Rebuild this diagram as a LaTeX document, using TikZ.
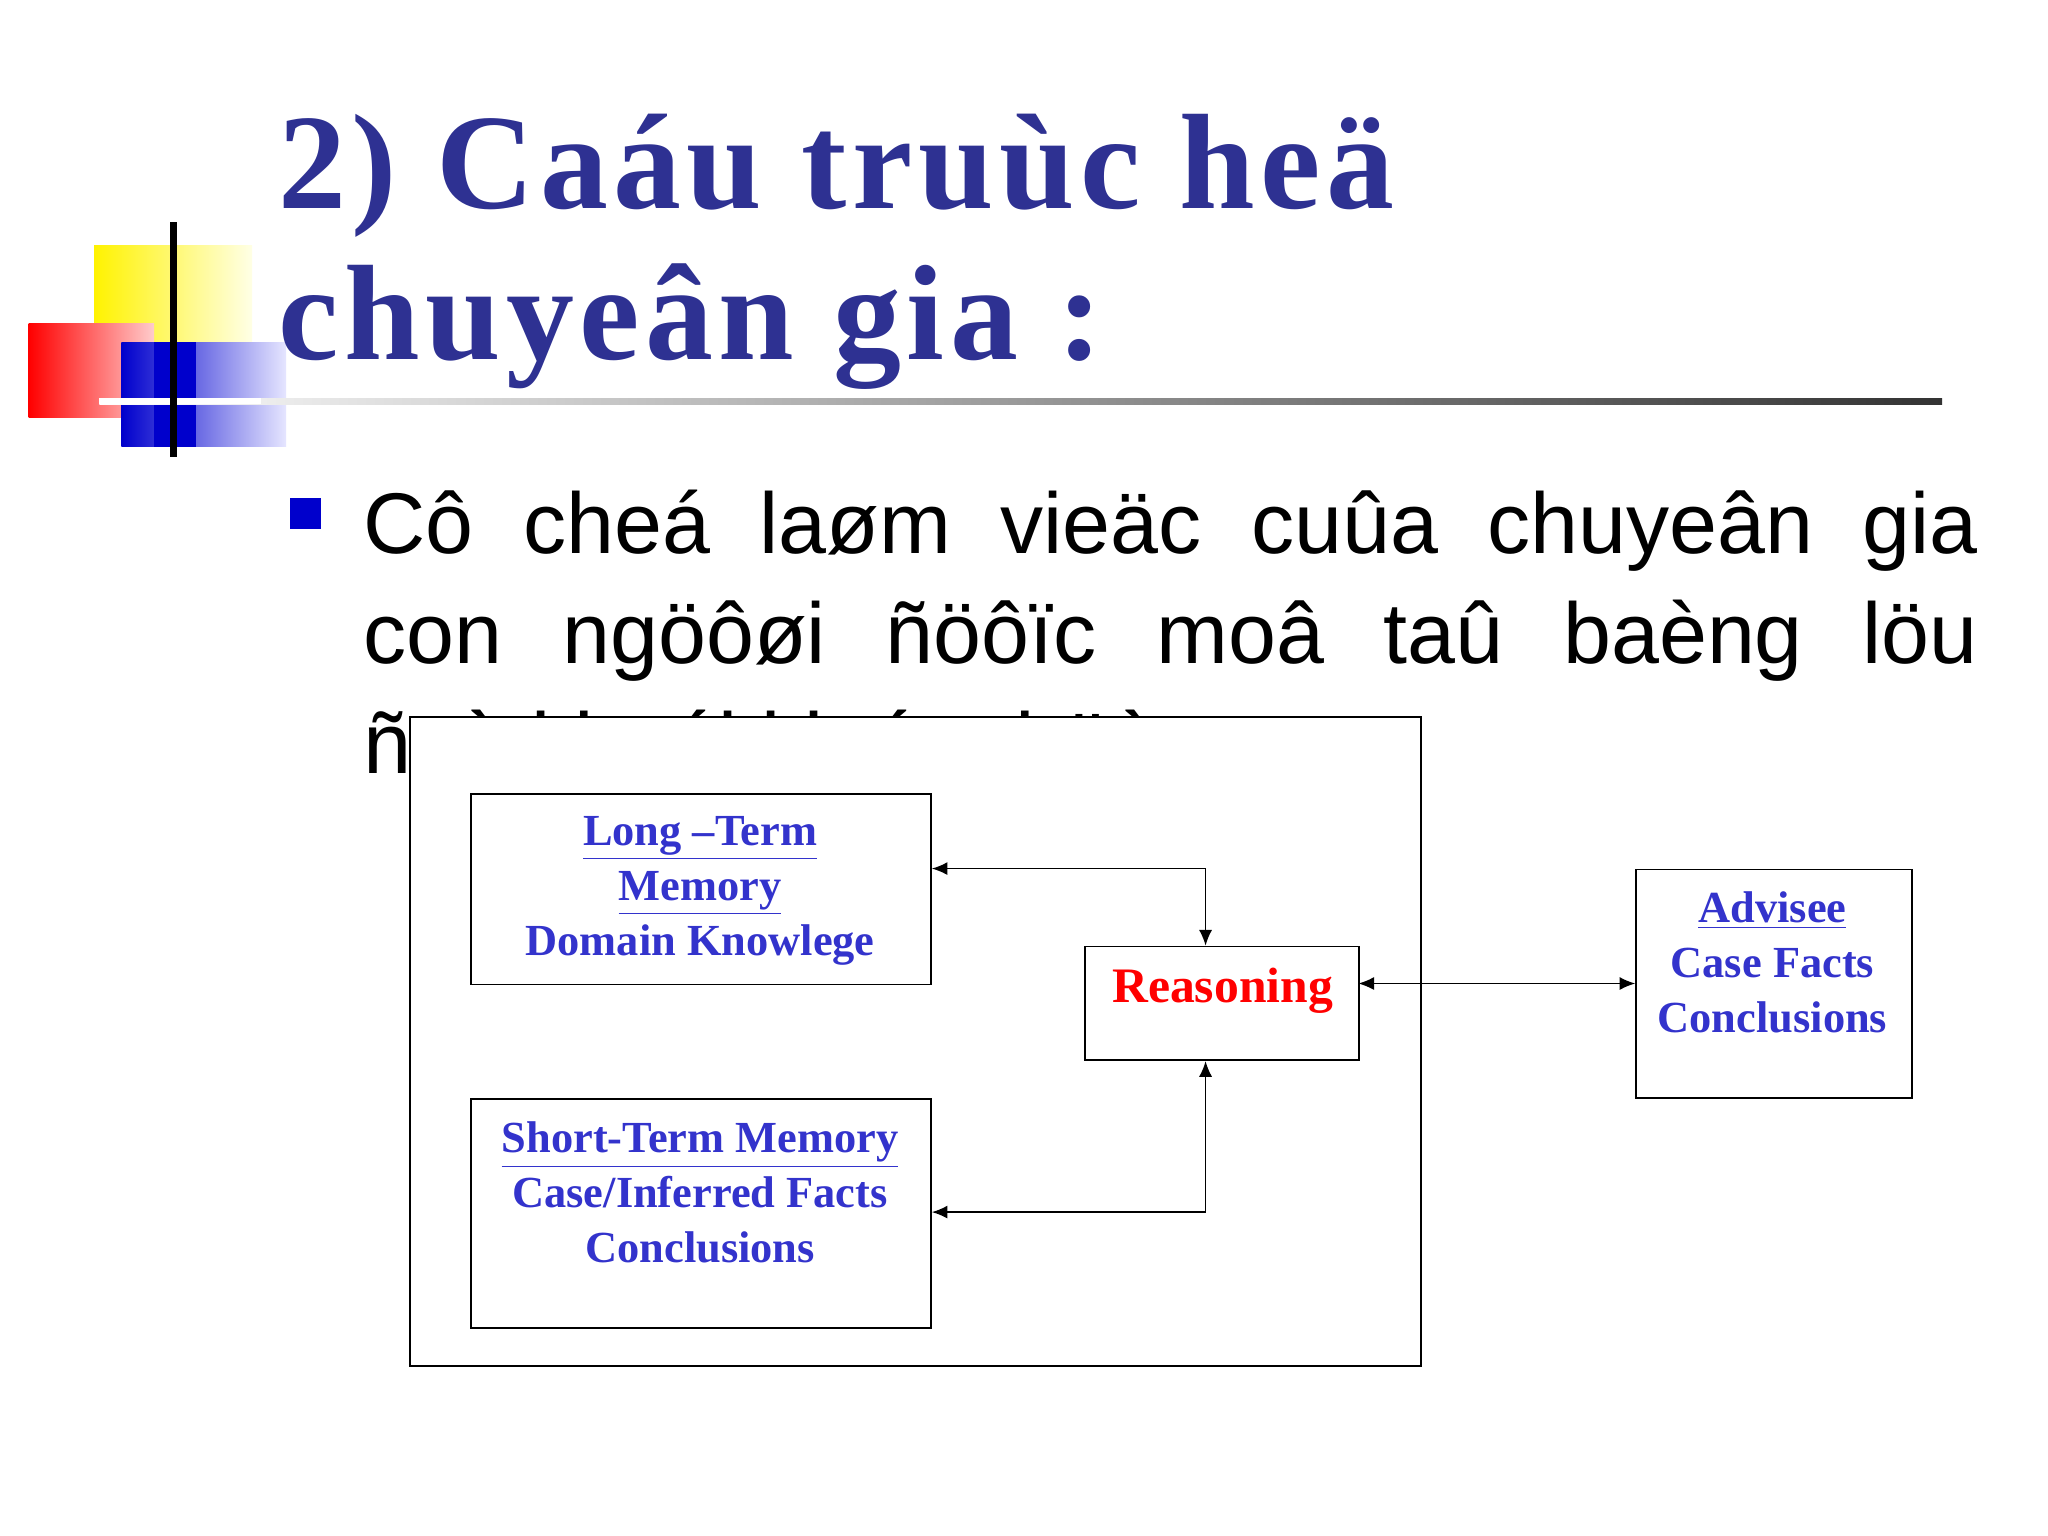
\documentclass[tikz,border=0pt]{standalone}
\usepackage{fontspec}
\setmainfont{Liberation Serif}
\newfontfamily\bodyfont{Liberation Sans}
\newfontfamily\ttlfont[LetterSpace=4]{Liberation Serif}
\usetikzlibrary{arrows.meta}
\definecolor{ttl}{HTML}{2E3192}
\definecolor{txb}{HTML}{3333CC}
\tikzset{box/.style={draw=black,line width=0.7pt,fill=white,inner sep=0pt},
 lbl/.style={align=center,font=\bfseries\fontsize{17}{21}\selectfont,text=txb},
 ttlstyle/.style={anchor=base west,inner sep=0,text=ttl,font=\ttlfont\bfseries\fontsize{52}{60}\selectfont},
 con/.style={line width=0.6pt,-{Latex[length=6pt,width=5pt]}}}
\begin{document}
\begin{tikzpicture}[x=0.5pt,y=-0.5pt]
\useasboundingbox (0,0) rectangle (1568,1176);
\fill[white] (0,0) rectangle (1568,1176);
% logo
\shade[left color=yellow!90!orange,right color=yellow!10] (72,188) rectangle (193,262);
\shade[left color=red,right color=red!20] (22,248) rectangle (118,320);
\shade[left color=blue!80!black,right color=blue!10] (93,262) rectangle (219,342);
\fill[blue!80!black] (118,262) rectangle (150,342);
\shade[left color=white,right color=black!80] (76,305) rectangle (1487,310);
\draw[white,line width=2pt] (76,307) -- (200,307);
\draw[black,line width=2.5pt] (133,170) -- (133,350);
% title
\node[ttlstyle] (t1) at (213,160) {2) Caáu truùc heä};
\node[ttlstyle] (t2) at (213,275) {chuyeân gia :};
% bullet
\fill[blue!80!black] (222,381) rectangle (246,405);
\node[anchor=base west,inner sep=0,font=\bodyfont\fontsize{33}{42}\selectfont] (b1) at (278,424) {\makebox[618pt][s]{Cô cheá laøm vieäc cuûa chuyeân gia}};
\node[anchor=base west,inner sep=0,font=\bodyfont\fontsize{33}{42}\selectfont] (b2) at (278,508) {\makebox[618pt][s]{con ngöôøi ñöôïc moâ taû baèng löu}};
\node[anchor=base west,inner sep=0,font=\bodyfont\fontsize{33}{42}\selectfont] (b3) at (278,592) {ñoà khoái kieán thöùc};
% diagram
\node[box,minimum width=387pt,minimum height=248.5pt,anchor=north west] (outer) at (313,548) {};
\node[box,minimum width=176pt,minimum height=73pt,anchor=north west] (ltm) at (360,607) {};
\node[lbl,anchor=north] (ltmt) at (536,618) {\underline{Long –Term}\\\underline{Memory}\\Domain Knowlege};
\node[box,minimum width=176pt,minimum height=87.5pt,anchor=north west] (stm) at (360,841) {};
\node[lbl,anchor=north] (stmt) at (536,852) {\underline{Short-Term Memory}\\Case/Inferred Facts\\Conclusions};
\node[box,minimum width=105pt,minimum height=43.5pt,anchor=north west] (rea) at (830,724) {};
\node[anchor=north,inner sep=0,text=red,font=\bfseries\fontsize{19}{23}\selectfont] (reat) at (936,741) {Reasoning};
\node[box,minimum width=105.5pt,minimum height=87.5pt,anchor=north west] (adv) at (1252,665) {};
\node[lbl,anchor=north] (advt) at (1357,676) {\underline{Advisee}\\Case Facts\\Conclusions};
\coordinate (c1) at (923,665);
\coordinate (c2) at (923,928);
\coordinate (c3) at (1040,753);
\draw[con] (c1) -- (ltm.east |- c1);
\draw[con] (c1) -- (c1 |- rea.north);
\draw[con] (c2) -- (stm.east |- c2);
\draw[con] (c2) -- (c2 |- rea.south);
\draw[con,{Latex[length=6pt,width=5pt]}-{Latex[length=6pt,width=5pt]}] (c3) -- (c3 -| adv.west);
\end{tikzpicture}
\end{document}
